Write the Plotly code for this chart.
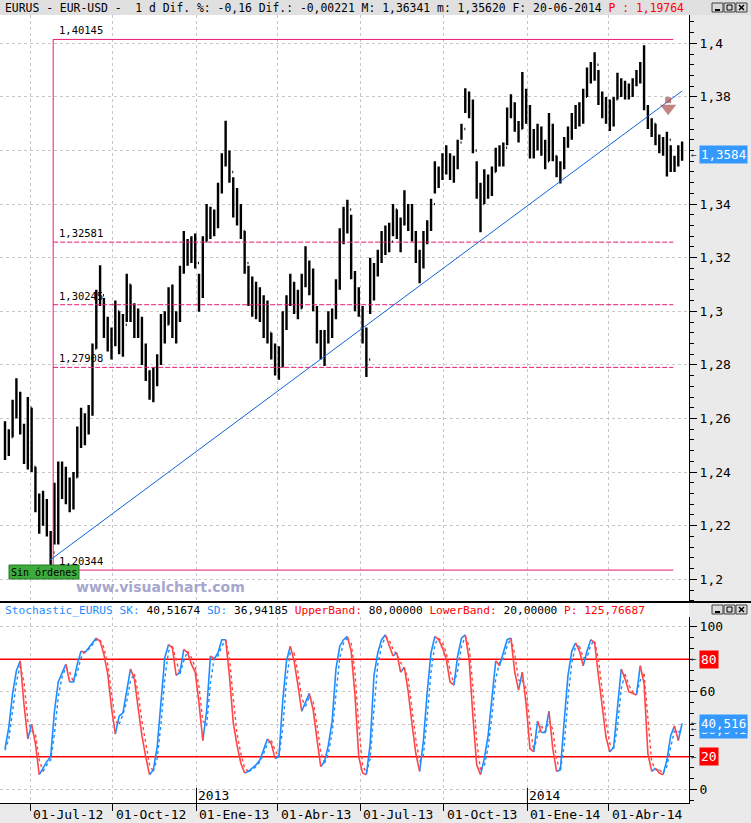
import numpy as np
import pandas as pd
import plotly.graph_objects as go

W, H = 751, 823
PLOT_RIGHT = 689  # px, right edge of the plotting area

# ------------------------------------------------------------------ data
first_session = "2012-06-04"
last_session = "2014-06-20"
bar_span = 3  # trading days per drawn bar

highs = [1.2590, 1.2560, 1.2670, 1.2750, 1.2700, 1.2580, 1.2680, 1.2640, 1.2420, 1.2320,
         1.2330, 1.2300, 1.2180, 1.2360, 1.2440, 1.2440, 1.2420, 1.2380, 1.2400, 1.2570,
         1.2640, 1.2620, 1.2650, 1.2880, 1.3080, 1.3172, 1.3050, 1.2980, 1.2940, 1.3040,
         1.3000, 1.2990, 1.3140, 1.3100, 1.3030, 1.3010, 1.2980, 1.2880, 1.2780, 1.2790,
         1.2840, 1.2990, 1.3000, 1.3090, 1.3100, 1.3000, 1.3170, 1.3300, 1.3270, 1.3280,
         1.3290, 1.3140, 1.3280, 1.3400, 1.3390, 1.3380, 1.3480, 1.3590, 1.3711, 1.3600,
         1.3500, 1.3460, 1.3400, 1.3300, 1.3170, 1.3130, 1.3110, 1.3090, 1.3060, 1.3040,
         1.2920, 1.2880, 1.2870, 1.3000, 1.3060, 1.3140, 1.3110, 1.3080, 1.3140, 1.3243,
         1.3190, 1.3160, 1.3020, 1.2930, 1.2930, 1.3000, 1.3010, 1.3120, 1.3310, 1.3390,
         1.3416, 1.3360, 1.3150, 1.3090, 1.3020, 1.2940, 1.3200, 1.3180, 1.3230, 1.3300,
         1.3320, 1.3330, 1.3400, 1.3380, 1.3350, 1.3452, 1.3400, 1.3400, 1.3300, 1.3230,
         1.3300, 1.3340, 1.3420, 1.3560, 1.3540, 1.3590, 1.3620, 1.3590, 1.3580, 1.3640,
         1.3700, 1.3832, 1.3820, 1.3790, 1.3560, 1.3480, 1.3530, 1.3510, 1.3540, 1.3610,
         1.3620, 1.3630, 1.3760, 1.3810, 1.3780, 1.3710, 1.3893, 1.3830, 1.3770, 1.3680,
         1.3700, 1.3690, 1.3640, 1.3740, 1.3700, 1.3580, 1.3560, 1.3650, 1.3690, 1.3740,
         1.3770, 1.3780, 1.3830, 1.3910, 1.3930, 1.3967, 1.3900, 1.3820, 1.3800, 1.3790,
         1.3800, 1.3890, 1.3870, 1.3860, 1.3850, 1.3870, 1.3900, 1.3930, 1.3993, 1.3770,
         1.3720, 1.3700, 1.3660, 1.3650, 1.3670, 1.3620, 1.3580, 1.3620, 1.3634]
lows = [1.2445, 1.2460, 1.2530, 1.2600, 1.2540, 1.2430, 1.2410, 1.2400, 1.2250, 1.2170,
        1.2200, 1.2160, 1.2042, 1.2130, 1.2130, 1.2300, 1.2280, 1.2250, 1.2260, 1.2380,
        1.2490, 1.2500, 1.2540, 1.2610, 1.2860, 1.3020, 1.2900, 1.2850, 1.2820, 1.2870,
        1.2840, 1.2830, 1.2960, 1.2960, 1.2900, 1.2900, 1.2800, 1.2740, 1.2670, 1.2661,
        1.2720, 1.2800, 1.2880, 1.2950, 1.2900, 1.2880, 1.2960, 1.3140, 1.3170, 1.3180,
        1.3160, 1.2998, 1.3050, 1.3260, 1.3270, 1.3280, 1.3310, 1.3440, 1.3540, 1.3480,
        1.3350, 1.3320, 1.3270, 1.3140, 1.3020, 1.2980, 1.2970, 1.2960, 1.2900, 1.2880,
        1.2820, 1.2760, 1.2745, 1.2790, 1.2930, 1.3020, 1.2990, 1.2970, 1.3010, 1.3090,
        1.3060, 1.3000, 1.2880, 1.2820, 1.2796, 1.2880, 1.2900, 1.2970, 1.3080, 1.3250,
        1.3290, 1.3120, 1.3000, 1.2980, 1.2880, 1.2755, 1.2990, 1.3040, 1.3130, 1.3180,
        1.3210, 1.3220, 1.3280, 1.3270, 1.3220, 1.3320, 1.3300, 1.3260, 1.3180, 1.3105,
        1.3160, 1.3250, 1.3300, 1.3440, 1.3460, 1.3490, 1.3510, 1.3490, 1.3480, 1.3530,
        1.3640, 1.3740, 1.3720, 1.3590, 1.3420, 1.3295, 1.3400, 1.3420, 1.3430, 1.3520,
        1.3540, 1.3540, 1.3620, 1.3720, 1.3670, 1.3630, 1.3680, 1.3700, 1.3570, 1.3570,
        1.3600, 1.3580, 1.3530, 1.3560, 1.3560, 1.3500, 1.3477, 1.3530, 1.3610, 1.3640,
        1.3680, 1.3690, 1.3700, 1.3800, 1.3850, 1.3860, 1.3770, 1.3720, 1.3700, 1.3673,
        1.3690, 1.3790, 1.3800, 1.3790, 1.3790, 1.3800, 1.3840, 1.3850, 1.3750, 1.3680,
        1.3650, 1.3620, 1.3590, 1.3580, 1.3503, 1.3520, 1.3520, 1.3540, 1.3562]
closes = [1.2480, 1.2530, 1.2610, 1.2690, 1.2570, 1.2470, 1.2640, 1.2420, 1.2280, 1.2210,
          1.2280, 1.2170, 1.2100, 1.2300, 1.2380, 1.2400, 1.2300, 1.2290, 1.2380, 1.2500,
          1.2540, 1.2560, 1.2630, 1.2860, 1.3050, 1.3060, 1.2960, 1.2880, 1.2890, 1.3000,
          1.2890, 1.2950, 1.3100, 1.2990, 1.2950, 1.2960, 1.2810, 1.2760, 1.2710, 1.2750,
          1.2820, 1.2970, 1.2950, 1.3060, 1.2930, 1.2990, 1.3150, 1.3240, 1.3200, 1.3230,
          1.3180, 1.3070, 1.3260, 1.3370, 1.3330, 1.3320, 1.3460, 1.3570, 1.3580, 1.3520,
          1.3400, 1.3380, 1.3300, 1.3180, 1.3060, 1.3040, 1.3010, 1.3030, 1.2940, 1.2920,
          1.2840, 1.2830, 1.2800, 1.2980, 1.3040, 1.3100, 1.3040, 1.3010, 1.3120, 1.3120,
          1.3150, 1.3010, 1.2900, 1.2860, 1.2900, 1.2950, 1.2990, 1.3090, 1.3280, 1.3330,
          1.3380, 1.3140, 1.3040, 1.3000, 1.2900, 1.2820, 1.3080, 1.3150, 1.3200, 1.3280,
          1.3270, 1.3260, 1.3380, 1.3300, 1.3330, 1.3390, 1.3370, 1.3280, 1.3200, 1.3170,
          1.3270, 1.3310, 1.3400, 1.3520, 1.3500, 1.3550, 1.3580, 1.3530, 1.3540, 1.3630,
          1.3680, 1.3790, 1.3760, 1.3600, 1.3470, 1.3400, 1.3470, 1.3480, 1.3520, 1.3570,
          1.3590, 1.3610, 1.3740, 1.3760, 1.3700, 1.3680, 1.3750, 1.3760, 1.3600, 1.3620,
          1.3680, 1.3600, 1.3560, 1.3680, 1.3580, 1.3520, 1.3540, 1.3630, 1.3660, 1.3710,
          1.3740, 1.3730, 1.3800, 1.3880, 1.3900, 1.3920, 1.3790, 1.3760, 1.3740, 1.3710,
          1.3790, 1.3860, 1.3820, 1.3810, 1.3830, 1.3850, 1.3880, 1.3910, 1.3760, 1.3700,
          1.3700, 1.3640, 1.3610, 1.3620, 1.3640, 1.3550, 1.3550, 1.3610, 1.3584]
first_open = 1.2500

sk = [25, 38, 59, 73, 79, 52, 31, 40, 28, 9,
      13, 17, 20, 48, 66, 72, 77, 66, 66, 77,
      85, 84, 87, 90, 93, 91, 83, 71, 50, 34,
      45, 47, 60, 74, 68, 50, 33, 20, 9, 12,
      26, 54, 81, 89, 87, 70, 72, 86, 84, 77,
      72, 53, 30, 48, 82, 80, 84, 92, 92, 70,
      41, 27, 16, 10, 11, 13, 15, 18, 25, 31,
      28, 19, 20, 54, 79, 88, 79, 64, 48, 54,
      59, 49, 31, 14, 17, 27, 42, 74, 88, 92,
      94, 85, 58, 20, 10, 9, 28, 70, 84, 92,
      95, 89, 82, 84, 72, 75, 60, 40, 22, 11,
      30, 60, 84, 94, 92, 87, 80, 66, 64, 82,
      93, 95, 80, 45, 15, 9, 19, 33, 57, 79,
      76, 84, 92, 93, 72, 61, 72, 52, 25, 23,
      42, 35, 35, 48, 25, 11, 12, 42, 70, 85,
      90, 85, 76, 85, 92, 90, 70, 52, 32, 23,
      26, 50, 74, 68, 60, 59, 58, 76, 65, 22,
      11, 13, 10, 9, 18, 33, 39, 30, 40.5167]
sd = [24, 31, 48, 66, 76, 66, 42, 36, 34, 18,
      11, 15, 18, 34, 57, 69, 75, 72, 66, 72,
      81, 85, 86, 89, 92, 92, 87, 77, 61, 42,
      40, 46, 54, 67, 71, 59, 42, 27, 15, 11,
      19, 40, 68, 85, 88, 79, 71, 79, 85, 81,
      75, 63, 42, 39, 65, 81, 82, 88, 92, 81,
      56, 34, 22, 13, 11, 12, 14, 17, 22, 28,
      30, 24, 20, 37, 67, 84, 84, 72, 56, 51,
      57, 54, 40, 23, 16, 22, 35, 58, 81, 90,
      93, 90, 72, 39, 15, 10, 19, 49, 77, 88,
      94, 92, 86, 83, 78, 74, 68, 50, 31, 17,
      21, 45, 72, 89, 93, 90, 84, 73, 65, 73,
      88, 94, 88, 63, 30, 12, 14, 26, 45, 68,
      78, 80, 88, 93, 83, 67, 67, 62, 39, 24,
      33, 39, 35, 42, 37, 18, 12, 27, 56, 78,
      88, 88, 81, 81, 89, 91, 80, 61, 42, 28,
      25, 38, 62, 71, 64, 60, 59, 67, 71, 44,
      17, 12, 12, 10, 14, 26, 36, 35, 36.9419]
upper_band, lower_band = 80, 20

fib_levels = [1.40145, 1.32581, 1.30245, 1.27908, 1.20344]
fib_labels = ["1,40145", "1,32581", "1,30245", "1,27908", "1,20344"]
fib_start_date, fib_end_date = "2012-07-26", "2014-06-11"

trend_dates = ["2012-07-23", "2014-06-20"]
trend_prices = [1.2070, 1.3822]

signal_date = "2014-06-05"
signal_price = 1.3758

quarter_dates = ["2012-07-01", "2012-10-01", "2013-01-01", "2013-04-01",
                 "2013-07-01", "2013-10-01", "2014-01-01", "2014-04-01"]
quarter_labels = ["01-Jul-12", "01-Oct-12", "01-Ene-13", "01-Abr-13",
                  "01-Jul-13", "01-Oct-13", "01-Ene-14", "01-Abr-14"]
year_dates = ["2013-01-01", "2014-01-01"]
year_labels = ["2013", "2014"]

# 1,36 sits under the last-price box in the reference, so its label is not shown
price_ticks = [1.20, 1.22, 1.24, 1.26, 1.28, 1.30, 1.32, 1.34, 1.36, 1.38, 1.40]
price_tick_labels = ["1,2", "1,22", "1,24", "1,26", "1,28", "1,3",
                     "1,32", "1,34", "", "1,38", "1,4"]
stoch_ticks = [0, 20, 40, 60, 80, 100]
stoch_tick_labels = ["0", "", "", "60", "", "100"]

title_main = ("EURUS - EUR-USD -  1 d Dif. %: -0,16 Dif.: -0,00221 "
              "M: 1,36341 m: 1,35620 F: 20-06-2014 ")
title_red = "P : 1,19764"
stoch_header = [("Stochastic_EURUS SK:", "#1E8CFF"), (" 40,51674 ", "#000000"),
                ("SD:", "#1E8CFF"), (" 36,94185 ", "#000000"),
                ("UpperBand:", "#FF0000"), (" 80,00000 ", "#000000"),
                ("LowerBand:", "#FF0000"), (" 20,00000 ", "#000000"),
                ("P: 125,76687", "#FF0000")]

# ------------------------------------------------------------------ helpers
sessions = pd.bdate_range(first_session, last_session)


def day_index(d):
    return int(sessions.searchsorted(pd.Timestamp(d)))


bar_x = list(range(0, len(sessions), bar_span))
assert len(bar_x) == len(closes) == len(highs) == len(lows) == len(sk) == len(sd)
opens = [first_open] + closes[:-1]


def pxx(p):
    return p / W


def pxy(p):
    return 1 - p / H


# horizontal scale: first session at 5 px, 1.268 px per session
PX_PER_DAY, X_OFF = 1.268, 5.0
x_lo = (0 - X_OFF) / PX_PER_DAY
x_hi = (PLOT_RIGHT - X_OFF) / PX_PER_DAY
# price scale: 1.40 at 43.3 px, 0.02 per 53.6 px
P_TOP, P_BOT = 15, 601
price_at = lambda p: 1.40 - (p - 43.3) * 0.02 / 53.6
# stochastic scale: 100 at 626.7 px, 0 at 789.3 px
S_TOP, S_BOT = 617, 803
stoch_at = lambda p: (789.3 - p) / 1.626

FIB = "#E8196E"
GRID = "#C8C8C8"
VGRID = "#C8C4D4"
BLUE = "#1E8CFF"
RED = "#FF4646"
MONO = "DejaVu Sans Mono"

fig = go.Figure()

# --- price bars
fig.add_trace(go.Ohlc(
    x=bar_x, open=opens, high=highs, low=lows, close=closes,
    increasing=dict(line=dict(color="black", width=2.4)),
    decreasing=dict(line=dict(color="black", width=2.4)),
    tickwidth=0.25, hoverinfo="skip", showlegend=False, xaxis="x", yaxis="y"))

# --- fibonacci retracement
fs, fe = day_index(fib_start_date), day_index(fib_end_date)
fig.add_trace(go.Scatter(x=[fs, fs], y=[fib_levels[0], fib_levels[-1]], mode="lines",
                         line=dict(color=FIB, width=1), hoverinfo="skip", showlegend=False))
for i, lev in enumerate(fib_levels):
    solid = i in (0, len(fib_levels) - 1)
    fig.add_trace(go.Scatter(x=[fs, fe], y=[lev, lev], mode="lines",
                             line=dict(color=FIB, width=1, dash=None if solid else "5px,2px"),
                             hoverinfo="skip", showlegend=False))

# --- trend line
fig.add_trace(go.Scatter(x=[day_index(d) for d in trend_dates], y=trend_prices, mode="lines",
                         line=dict(color="#1262D6", width=1), hoverinfo="skip", showlegend=False))

# --- sell signal arrow
sx = day_index(signal_date)
fig.add_trace(go.Scatter(x=[sx, sx], y=[signal_price + 0.0030, signal_price], mode="markers",
                         marker=dict(symbol=["square", "triangle-down"], size=[6, 14],
                                     color="#A8504F", line=dict(width=0)),
                         hoverinfo="skip", showlegend=False))


# --- stochastic (coloured by direction)
def direction_segments(xs, ys, rising):
    X, Y = [], []
    for i in range(1, len(ys)):
        up = ys[i] >= ys[i - 1]
        if up != rising:
            continue
        if X and X[-1] == xs[i - 1]:
            X.append(xs[i]); Y.append(ys[i])
        else:
            if X:
                X.append(None); Y.append(None)
            X += [xs[i - 1], xs[i]]; Y += [ys[i - 1], ys[i]]
    return X, Y


for band in (upper_band, lower_band):
    fig.add_trace(go.Scatter(x=[x_lo, x_hi], y=[band, band], mode="lines",
                             line=dict(color="#FF0000", width=1.5), xaxis="x2", yaxis="y2",
                             hoverinfo="skip", showlegend=False))
for series, dash, width in ((sd, "dot", 1.4), (sk, None, 1.6)):
    for rising, col in ((True, BLUE), (False, RED)):
        X, Y = direction_segments(bar_x, series, rising)
        fig.add_trace(go.Scatter(x=X, y=Y, mode="lines", connectgaps=False,
                                 line=dict(color=col, width=width, dash=dash),
                                 xaxis="x2", yaxis="y2", hoverinfo="skip", showlegend=False))

q_idx = [day_index(d) for d in quarter_dates]
y_idx = [day_index(d) for d in year_dates]

# ------------------------------------------------------------------ layout
shapes = []
# panels
shapes.append(dict(type="rect", xref="paper", yref="paper", x0=0, x1=1, y0=pxy(15), y1=1,
                   fillcolor="#E0E0E0", line=dict(width=0), layer="below"))
shapes.append(dict(type="rect", xref="paper", yref="paper", x0=pxx(PLOT_RIGHT), x1=1,
                   y0=pxy(803), y1=pxy(15), fillcolor="#EAEAEA", line=dict(width=0), layer="below"))
shapes.append(dict(type="rect", xref="paper", yref="paper", x0=0, x1=1, y0=0, y1=pxy(803),
                   fillcolor="#EAEAEA", line=dict(width=0), layer="below"))
shapes.append(dict(type="line", xref="paper", yref="paper", x0=0, x1=1, y0=pxy(602), y1=pxy(602),
                   line=dict(color="black", width=2)))
# year separators
for yi in y_idx:
    shapes.append(dict(type="line", xref="x2", yref="paper", x0=yi, x1=yi, y0=pxy(788), y1=pxy(803),
                       line=dict(color="black", width=1)))
# "Sin órdenes" box
shapes.append(dict(type="rect", xref="paper", yref="paper", x0=pxx(9), x1=pxx(79),
                   y0=pxy(579), y1=pxy(565), fillcolor="#3DAA3D", line=dict(color="#237A23", width=1)))


# window buttons
def buttons(top):
    out = []
    for i in range(3):
        x0 = 712 + i * 12
        x1 = x0 + 11
        out.append(dict(type="rect", xref="paper", yref="paper", x0=pxx(x0), x1=pxx(x1),
                        y0=pxy(top + 9), y1=pxy(top), fillcolor="#D8D8D8",
                        line=dict(color="#404040", width=1)))
        cx0, cx1 = x0 + 3, x1 - 3
        if i == 0:
            out.append(dict(type="line", xref="paper", yref="paper", x0=pxx(cx0), x1=pxx(cx1),
                            y0=pxy(top + 7), y1=pxy(top + 7), line=dict(color="black", width=2)))
        elif i == 1:
            out.append(dict(type="rect", xref="paper", yref="paper", x0=pxx(cx0), x1=pxx(cx1),
                            y0=pxy(top + 7), y1=pxy(top + 2), line=dict(color="black", width=1)))
        else:
            out.append(dict(type="line", xref="paper", yref="paper", x0=pxx(cx0), x1=pxx(cx1),
                            y0=pxy(top + 7), y1=pxy(top + 2), line=dict(color="black", width=1.5)))
            out.append(dict(type="line", xref="paper", yref="paper", x0=pxx(cx0), x1=pxx(cx1),
                            y0=pxy(top + 2), y1=pxy(top + 7), line=dict(color="black", width=1.5)))
    return out


shapes += buttons(3) + buttons(605)

ann = []
ann.append(dict(xref="paper", yref="paper", x=pxx(3), y=pxy(7.5), xanchor="left", yanchor="middle",
                showarrow=False, font=dict(family=MONO, size=11.4, color="black"),
                text=title_main + f"<span style='color:#FF0000'>{title_red}</span>"))
ann.append(dict(xref="paper", yref="paper", x=pxx(3), y=pxy(610), xanchor="left", yanchor="middle",
                showarrow=False, font=dict(family=MONO, size=11.2, color="black"),
                text="".join(f"<span style='color:{c}'>{t}</span>" for t, c in stoch_header)))
for lev, lab in zip(fib_levels, fib_labels):
    ann.append(dict(xref="x", yref="y", x=fs, y=lev, xanchor="left", yanchor="bottom",
                    xshift=4, yshift=1, showarrow=False, text=lab,
                    font=dict(family=MONO, size=10.5, color="black")))
ann.append(dict(xref="paper", yref="paper", x=pxx(160), y=pxy(587), xanchor="center", yanchor="middle",
                showarrow=False, text="<b>www.visualchart.com</b>",
                font=dict(family="DejaVu Sans", size=14, color="#A6A6CE")))
ann.append(dict(xref="paper", yref="paper", x=pxx(44), y=pxy(572), xanchor="center", yanchor="middle",
                showarrow=False, text="Sin órdenes", font=dict(family=MONO, size=10, color="black")))


def value_box(yref, yval, text, bg, size=13):
    return [dict(xref="paper", yref=yref, x=pxx(690), y=yval, xanchor="left", yanchor="middle",
                 showarrow=False, text="←", borderpad=0,
                 font=dict(family=MONO, size=9, color="#333333")),
            dict(xref="paper", yref=yref, x=pxx(699), y=yval, xanchor="left", yanchor="middle",
                 showarrow=False, text=text, bgcolor=bg, borderpad=1,
                 font=dict(family=MONO, size=size, color="white"))]


trunc = lambda v, n: f"{int(v * 10 ** n) / 10 ** n:.{n}f}".replace(".", ",")
ann += value_box("y", closes[-1], trunc(closes[-1], 4), "#3399FF", 12.5)
ann += value_box("y2", upper_band, str(upper_band), "#FF0000")
ann += value_box("y2", lower_band, str(lower_band), "#FF0000")
ann += value_box("y2", sd[-1], trunc(sd[-1], 3), "#3399FF", 12.5)
ann += value_box("y2", sk[-1], trunc(sk[-1], 3), "#3399FF", 12.5)

for qi, lab in zip(q_idx, quarter_labels):
    ann.append(dict(xref="x2", yref="paper", x=qi, y=pxy(814), xanchor="left", yanchor="middle",
                    xshift=1, showarrow=False, text=lab, font=dict(family=MONO, size=13, color="black")))
for yi, lab in zip(y_idx, year_labels):
    ann.append(dict(xref="x2", yref="paper", x=yi, y=pxy(795), xanchor="left", yanchor="middle",
                    xshift=0, showarrow=False, text=lab, font=dict(family=MONO, size=13, color="black")))

grid_h = dict(showgrid=True, gridcolor=GRID, griddash="3px,3px", gridwidth=1, zeroline=False,
              fixedrange=True)
grid_v = dict(showgrid=True, gridcolor=VGRID, griddash="3px,3px", gridwidth=1, zeroline=False,
              fixedrange=True)

fig.update_layout(
    width=W, height=H, margin=dict(l=0, r=0, t=0, b=0),
    paper_bgcolor="white", plot_bgcolor="white", hovermode=False, showlegend=False,
    font=dict(family=MONO, size=13, color="black"),
    xaxis=dict(domain=[0, pxx(PLOT_RIGHT)], range=[x_lo, x_hi], anchor="y",
               tickmode="array", tickvals=q_idx, showticklabels=False, ticks="",
               showline=False, rangeslider=dict(visible=False), **grid_v),
    yaxis=dict(domain=[pxy(P_BOT), pxy(P_TOP)], range=[price_at(P_BOT), price_at(P_TOP)],
               anchor="x", side="right", tickmode="array", tickvals=price_ticks,
               ticktext=price_tick_labels, ticks="outside", ticklen=7, tickcolor="black",
               showline=True, linecolor="black", linewidth=1,
               tickfont=dict(family=MONO, size=13, color="black"),
               minor=dict(tickmode="array", tickvals=list(np.round(np.arange(1.192, 1.4101, 0.004), 3)),
                          ticks="outside", ticklen=4, tickcolor="black", showgrid=False),
               **grid_h),
    xaxis2=dict(domain=[0, pxx(PLOT_RIGHT)], range=[x_lo, x_hi], anchor="y2",
                tickmode="array", tickvals=q_idx, showticklabels=False, ticks="outside",
                ticklen=7, tickcolor="black", showline=True, linecolor="black", linewidth=1,
                **grid_v),
    yaxis2=dict(domain=[pxy(S_BOT), pxy(S_TOP)], range=[stoch_at(S_BOT), stoch_at(S_TOP)],
                anchor="x2", side="right", tickmode="array", tickvals=stoch_ticks,
                ticktext=stoch_tick_labels, ticks="outside", ticklen=7, tickcolor="black",
                showline=True, linecolor="black", linewidth=1,
                tickfont=dict(family=MONO, size=13, color="black"),
                minor=dict(tickmode="array", tickvals=[v / 3 for v in range(-20, 316, 20)],
                           ticks="outside", ticklen=4, tickcolor="black", showgrid=False),
                **grid_h),
    shapes=shapes, annotations=ann,
)

fig.write_html("out.html", config={"displayModeBar": False, "staticPlot": True},
               post_script="document.body.style.margin='0px';")
